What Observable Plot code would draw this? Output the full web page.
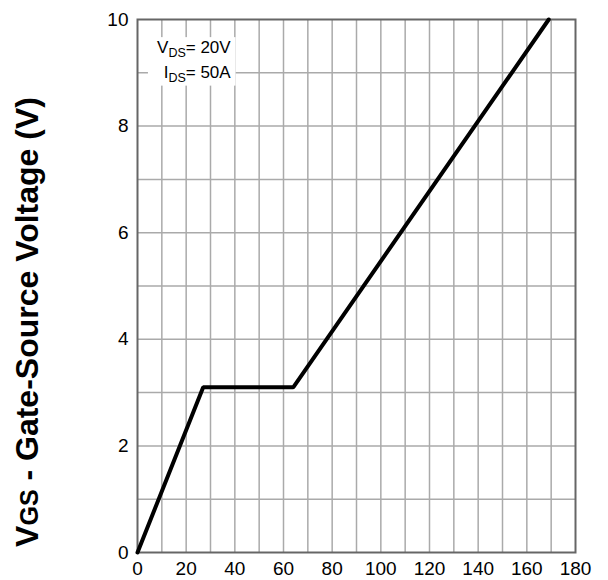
<!DOCTYPE html>
<html>
<head>
<meta charset="utf-8">
<script src="https://cdn.jsdelivr.net/npm/d3@7"></script>
<script src="https://cdn.jsdelivr.net/npm/@observablehq/plot@0.6"></script>
<style>
  html, body { margin: 0; padding: 0; background: #fff; }
  #chart { width: 608px; height: 580px; }
</style>
</head>
<body>
<div id="chart"></div>
<script>
// Gate charge (nC) vs gate-source voltage (V)
const gateCharge = [0, 27, 64, 169];
const gateVoltage = [0, 3.1, 3.1, 10];
const xTickValues = [0, 20, 40, 60, 80, 100, 120, 140, 160, 180];
const yTickValues = [0, 2, 4, 6, 8, 10];
const xGridValues = [10, 20, 30, 40, 50, 60, 70, 80, 90, 100, 110, 120, 130, 140, 150, 160, 170];
const yGridValues = [1, 2, 3, 4, 5, 6, 7, 8, 9];
const yTitleMain = "V";
const yTitleSub = "GS";
const yTitleRest = " - Gate-Source Voltage (V)";
const noteLines = [["V", "DS", "= 20V"], ["I", "DS", "= 50A"]];

const curve = gateCharge.map((q, i) => ({q, v: gateVoltage[i]}));

const plot = Plot.plot({
  width: 608,
  height: 580,
  marginLeft: 137,
  marginRight: 33,
  marginTop: 19,
  marginBottom: 28,
  style: {fontFamily: "'Liberation Sans', Arial, sans-serif", fontSize: "19px", color: "#000", background: "#fff"},
  x: {domain: [0, 180], label: null},
  y: {domain: [0, 10], label: null},
  marks: [
    Plot.ruleX(xGridValues, {stroke: "#aaa", strokeWidth: 1.5}),
    Plot.ruleY(yGridValues, {stroke: "#aaa", strokeWidth: 1.5}),
    Plot.frame({stroke: "#666", strokeWidth: 2}),
    Plot.axisX({ticks: xTickValues, tickSize: 0, tickPadding: 9, fontSize: 19, label: null}),
    Plot.axisY({ticks: yTickValues, tickSize: 0, tickPadding: 9, fontSize: 19, label: null}),
    Plot.line(curve, {x: "q", y: "v", stroke: "#000", strokeWidth: 4, strokeLinejoin: "miter"})
  ]
});

document.getElementById("chart").appendChild(plot);

const svg = d3.select(plot);
// enlarge all axis tick label text (inline style overrides Plot's default CSS)
svg.selectAll("g").filter(function () { return this.querySelector(":scope > text"); })
  .style("font-size", "19px").style("font-family", "'Liberation Sans', Arial, sans-serif");
svg.selectAll("text").style("font-size", "19px").style("font-family", "'Liberation Sans', Arial, sans-serif");
const xs = plot.scale("x"), ys = plot.scale("y");

// Annotation box with subscripts
const note = svg.append("g").style("font-family", "'Liberation Sans', Arial, sans-serif").style("font-size", "17px");
note.append("rect")
  .attr("x", xs.apply(4.5)).attr("y", ys.apply(9.66))
  .attr("width", xs.apply(40.5) - xs.apply(4.5))
  .attr("height", ys.apply(8.75) - ys.apply(9.66))
  .attr("fill", "#fff");
noteLines.forEach((parts, i) => {
  const t = note.append("text")
    .attr("x", xs.apply(38.5))
    .attr("y", ys.apply(9.37 - i * 0.47))
    .attr("text-anchor", "end")
    .attr("fill", "#000");
  t.append("tspan").text(parts[0]);
  t.append("tspan").style("font-size", "12.5px").attr("dy", 4).text(parts[1]);
  t.append("tspan").attr("dy", -4).text(parts[2]);
});

// Y axis title
const yTitle = svg.append("text")
  .attr("transform", `translate(38,322) rotate(-90)`)
  .attr("text-anchor", "middle")
  .style("font-family", "'Liberation Sans', Arial, sans-serif")
  .style("font-weight", "bold")
  .style("font-size", "32px")
  .attr("fill", "#000");
yTitle.append("tspan").text(yTitleMain);
yTitle.append("tspan").style("font-size", "25px").text(yTitleSub);
yTitle.append("tspan").text(yTitleRest);
</script>
</body>
</html>
